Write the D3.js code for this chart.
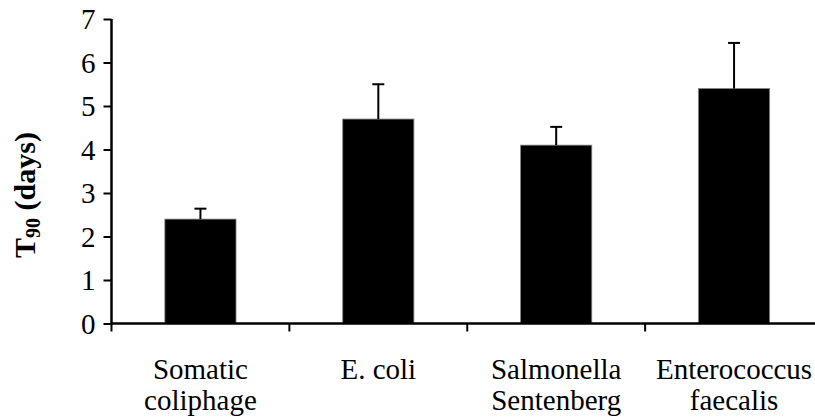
<!DOCTYPE html>
<html>
<head>
<meta charset="utf-8">
<script src="https://cdn.jsdelivr.net/npm/d3@7"></script>
<style>
  html, body { margin: 0; padding: 0; background: #fff; }
  svg { display: block; }
</style>
</head>
<body>
<svg id="chart" width="815" height="418" font-family="Liberation Serif"></svg>
<script>
// T90 values (days) per indicator organism, with standard deviation
const categories = ["Somatic coliphage", "E. coli", "Salmonella Sentenberg", "Enterococcus faecalis"];
const categoryLines = [["Somatic", "coliphage"], ["E. coli"], ["Salmonella", "Sentenberg"], ["Enterococcus", "faecalis"]];
const t90Values = [2.4, 4.7, 4.1, 5.4];
const t90Errors = [0.24, 0.8, 0.42, 1.05];
const yTicks = [0, 1, 2, 3, 4, 5, 6, 7];

const FONT = "Liberation Serif";

const svg = d3.select("#chart");

const x = d3.scaleBand()
  .domain(categories)
  .range([111.5, 823])
  .paddingInner(0.6)
  .paddingOuter(0.3);

const y = d3.scaleLinear()
  .domain([0, 7])
  .range([323.5, 19]);

// bars
svg.append("g")
  .selectAll("rect")
  .data(categories)
  .join("rect")
  .attr("x", d => x(d))
  .attr("width", x.bandwidth())
  .attr("y", (d, i) => y(t90Values[i]))
  .attr("height", (d, i) => y(0) - y(t90Values[i]))
  .attr("fill", "#000")
  .attr("stroke", "#808080")
  .attr("stroke-width", 0.8);

// error bars (upper half only)
const err = svg.append("g").attr("stroke", "#000").attr("stroke-width", 2);
categories.forEach((c, i) => {
  const cx = x(c) + x.bandwidth() / 2;
  err.append("line")
    .attr("x1", cx).attr("x2", cx)
    .attr("y1", y(t90Values[i])).attr("y2", y(t90Values[i] + t90Errors[i]));
  err.append("line")
    .attr("x1", cx - 6).attr("x2", cx + 6)
    .attr("y1", y(t90Values[i] + t90Errors[i])).attr("y2", y(t90Values[i] + t90Errors[i]));
});

// y axis
const yAxis = svg.append("g")
  .attr("transform", "translate(111.5,0)")
  .call(d3.axisLeft(y).tickValues(yTicks).tickFormat(d3.format("d")).tickSize(8).tickPadding(8));
yAxis.attr("font-family", FONT).attr("font-size", 29);
yAxis.select(".domain").attr("stroke", "#000").attr("stroke-width", 2.5)
  .attr("d", `M0,${y(7)}V${y(0)}`);
yAxis.selectAll(".tick line").attr("stroke", "#000").attr("stroke-width", 2);
yAxis.selectAll(".tick text")
  .attr("font-family", FONT)
  .attr("font-size", 29)
  .attr("fill", "#000")
  .attr("dy", "0.34em");

// x axis: boundary ticks between categories
const boundaries = categories.map(c => x(c) - x.step() * x.paddingInner() / 2);
boundaries.push(x(categories[3]) + x.bandwidth() + x.step() * x.paddingInner() / 2);
const xg = svg.append("g");
xg.append("line")
  .attr("x1", 111.5 - 1).attr("x2", 823)
  .attr("y1", y(0)).attr("y2", y(0))
  .attr("stroke", "#000").attr("stroke-width", 2.5);
xg.selectAll("line.tk")
  .data(boundaries)
  .join("line")
  .attr("class", "tk")
  .attr("x1", d => d).attr("x2", d => d)
  .attr("y1", y(0)).attr("y2", y(0) + 8)
  .attr("stroke", "#000").attr("stroke-width", 2);

// category labels
categories.forEach((c, i) => {
  const t = xg.append("text")
    .attr("x", x(c) + x.bandwidth() / 2)
    .attr("y", 379)
    .attr("text-anchor", "middle")
    .attr("font-family", FONT)
    .attr("font-size", 29);
  categoryLines[i].forEach((line, j) => {
    t.append("tspan")
      .attr("x", x(c) + x.bandwidth() / 2)
      .attr("dy", j === 0 ? 0 : 31)
      .text(line);
  });
});

// y axis title: T90 (days)
const title = svg.append("text")
  .attr("transform", "translate(35,195) rotate(-90)")
  .attr("text-anchor", "middle")
  .attr("font-family", FONT)
  .attr("font-size", 30)
  .attr("font-weight", "bold");
title.append("tspan").text("T");
title.append("tspan").attr("dy", 5).attr("font-size", 20).text("90");
title.append("tspan").attr("dy", -5).text(" (days)");
</script>
</body>
</html>
